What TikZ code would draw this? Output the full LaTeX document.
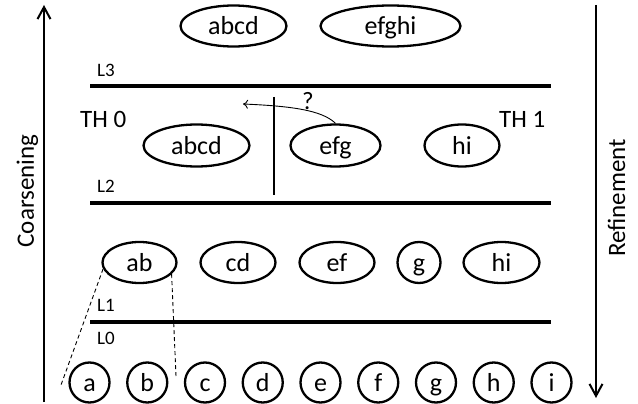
\documentclass[tikz,border=0pt]{standalone}
\usepackage{fontspec}
\setmainfont{Carlito}
\usetikzlibrary{shapes.geometric,arrows.meta}
\begin{document}
\begin{tikzpicture}[x=1pt,y=-1pt,
  ell/.style={draw,ellipse,line width=2.3pt,inner sep=0pt,minimum height=41pt,text height=17.5pt,text depth=0pt,font=\fontsize{26}{26}\selectfont},
  circ/.style={draw,circle,line width=2.3pt,inner sep=0pt,minimum size=40pt,text height=17.5pt,text depth=0pt,font=\fontsize{26}{26}\selectfont},
  level/.style={line width=3.2pt},
  lbl/.style={anchor=base west,inner sep=0pt,font=\fontsize{19}{19}\selectfont},
  thlbl/.style={anchor=base west,inner sep=0pt,font=\fontsize{25}{25}\selectfont},
  side/.style={rotate=90,anchor=base,inner sep=0pt,font=\fontsize{25}{25}\selectfont},
  bigarrow/.style={line width=2pt,-{Straight Barb[length=12pt,width=13pt,line width=2pt]}},
  dash line/.style={dashed,line width=0.9pt,dash pattern=on 4pt off 3pt},
]
\useasboundingbox (0,0) rectangle (638,404);
% side arrows
\coordinate (cb) at (44,402); \coordinate (ct) at (44,5);
\coordinate (rt) at (596,5); \coordinate (rb) at (596,398);
\draw[bigarrow] (cb) -- (ct);
\draw[bigarrow] (rt) -- (rb);
\node[side] (coarse) at (34,191) {Coarsening};
\node[side] (refine) at (625,198) {Refinement};
% level lines
\coordinate (l3a) at (90,86);  \coordinate (l3b) at (551,86);
\coordinate (l2a) at (90,203); \coordinate (l2b) at (551,203);
\coordinate (l1a) at (90,322); \coordinate (l1b) at (551,322);
\draw[level] (l3a) -- (l3b);
\draw[level] (l2a) -- (l2b);
\draw[level] (l1a) -- (l1b);
\node[lbl] (L3) at (97,77) {L3};
\node[lbl] (L2) at (97,193) {L2};
\node[lbl] (L1) at (97,311) {L1};
\node[lbl] (L0) at (97,344) {L0};
\node[thlbl] (th0) at (80,128) {TH 0};
\node[thlbl] (th1) at (499,128) {TH 1};
% top row
\node[ell,minimum width=106pt] (tabcd) at (233.5,26) {abcd};
\node[ell,minimum width=140pt] (tefghi) at (390.5,26) {efghi};
% middle row
\node[ell,minimum width=106pt,minimum height=42pt] (mabcd) at (196.5,145.5) {abcd};
\node[ell,minimum width=90pt,minimum height=42pt] (mefg) at (335.5,145.5) {efg};
\node[ell,minimum width=75pt,minimum height=42pt] (mhi) at (462,145.5) {hi};
% thread divider
\coordinate (vt) at (274,97); \coordinate (vb) at (274,195);
\draw[line width=2pt] (vt) -- (vb);
\coordinate (qtip) at (243,104);
\draw[line width=0.9pt,-{To[length=5pt,width=9pt]}] (mefg.north) .. controls (322,110) and (290,106) .. (qtip);
\node[font=\fontsize{25}{25}\selectfont,inner sep=0pt,anchor=base] (q) at (308,110) {?};
% L1 row
\node[ell,minimum width=74pt] (ab) at (139.5,262.5) {ab};
\node[ell,minimum width=75pt] (cd) at (238,262.5) {cd};
\node[ell,minimum width=75pt] (ef) at (337,262.5) {ef};
\node[ell,minimum width=43pt] (g1) at (419,262.5) {g};
\node[ell,minimum width=76pt] (hi1) at (501.5,262.5) {hi};
% bottom row
\foreach \n/\x in {a/89.5,b/147.25,c/205,d/262.75,e/320.5,f/378.25,g/436,h/493.75,i/551.5}{
  \node[circ] (\n) at (\x,382.5) {\n};
}
% dashed projections
\coordinate (d1) at (61,385);
\coordinate (d2) at (176,376);
\draw[dash line] (ab.190) -- (d1);
\draw[dash line] (ab.-20) -- (d2);
\end{tikzpicture}
\end{document}
